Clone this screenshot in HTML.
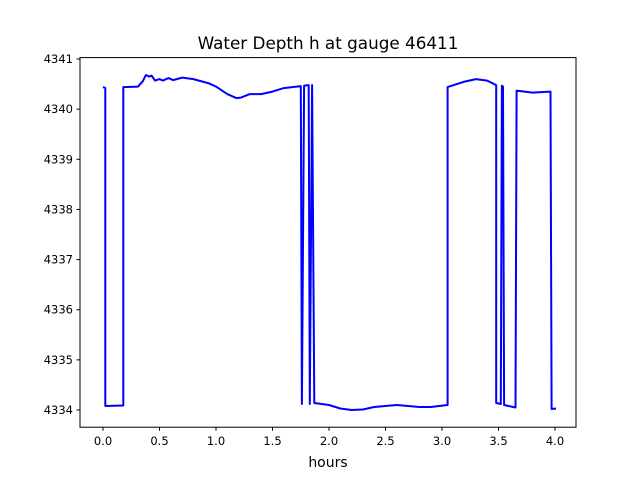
<!DOCTYPE html>
<html><head><meta charset="utf-8"><style>
body{margin:0;background:#fff}
svg text{font-family:"DejaVu Sans","Liberation Sans",sans-serif;fill:#000}
</style></head><body>
<svg id="chart" width="640" height="480" viewBox="0 0 640 480">
<rect width="640" height="480" fill="#fff"/>
<text x="328" y="49" font-size="16.8" text-anchor="middle">Water Depth h at gauge 46411</text>
<g id="ticks"></g>
<path id="line" fill="none" stroke="#0000ff" stroke-width="2" stroke-linejoin="round"/>
<rect x="80" y="57.6" width="496" height="369.6" fill="none" stroke="#000" stroke-width="1"/>
<text x="328" y="467" font-size="14" text-anchor="middle">hours</text>
</svg>
<script>
const times=[0.0,0.02,0.02,0.18,0.18,0.31,0.35,0.38,0.41,0.43,0.46,0.5,0.53,0.58,0.62,0.7,0.8,0.93,1.0,1.1,1.18,1.22,1.3,1.4,1.5,1.6,1.75,1.76,1.78,1.82,1.83,1.85,1.87,2.0,2.1,2.2,2.3,2.4,2.6,2.8,2.9,3.05,3.05,3.2,3.3,3.4,3.48,3.48,3.52,3.53,3.54,3.55,3.65,3.66,3.8,3.96,3.97,4.01];
const depths=[4340.44,4340.42,4334.08,4334.09,4340.44,4340.45,4340.55,4340.68,4340.65,4340.67,4340.57,4340.6,4340.57,4340.62,4340.58,4340.63,4340.6,4340.52,4340.45,4340.3,4340.22,4340.23,4340.3,4340.3,4340.35,4340.42,4340.46,4334.12,4340.47,4340.48,4334.12,4340.48,4334.14,4334.1,4334.03,4334.0,4334.01,4334.06,4334.1,4334.06,4334.06,4334.1,4340.44,4340.55,4340.6,4340.57,4340.48,4334.14,4334.12,4340.47,4340.45,4334.1,4334.05,4340.37,4340.33,4340.35,4334.02,4334.03];
const xTicks=[0,0.5,1,1.5,2,2.5,3,3.5,4];
const xTickLabels=["0.0","0.5","1.0","1.5","2.0","2.5","3.0","3.5","4.0"];
const yTicks=[4334,4335,4336,4337,4338,4339,4340,4341];
const X=t=>103+t*113;
const Y=h=>410-(h-4334)*50.14;
const ns="http://www.w3.org/2000/svg";
const g=document.getElementById('ticks');
function mk(tag,attrs){const e=document.createElementNS(ns,tag);for(const k in attrs)e.setAttribute(k,attrs[k]);return e;}
xTicks.forEach((v,i)=>{
 const l=mk('line',{x1:X(v),x2:X(v),y1:427.2,y2:430.7,stroke:'#000'});
 
 
 g.appendChild(l);
 const t=mk('text',{x:X(v),y:445,'font-size':'11.5','text-anchor':'middle'});
 
 
 t.textContent=xTickLabels[i];g.appendChild(t);
});
yTicks.forEach(v=>{
 const l=mk('line',{x1:76.5,x2:80,y1:Y(v),y2:Y(v),stroke:'#000'});
 
 
 g.appendChild(l);
 const t=mk('text',{x:73,y:Y(v)+4,'font-size':'11.5','text-anchor':'end'});
 
 
 t.textContent=v;g.appendChild(t);
});
document.getElementById('line').setAttribute('d',times.map((t,i)=>(i?'L':'M')+X(t).toFixed(1)+' '+Y(depths[i]).toFixed(1)).join(' '));
</script>
</body></html>
